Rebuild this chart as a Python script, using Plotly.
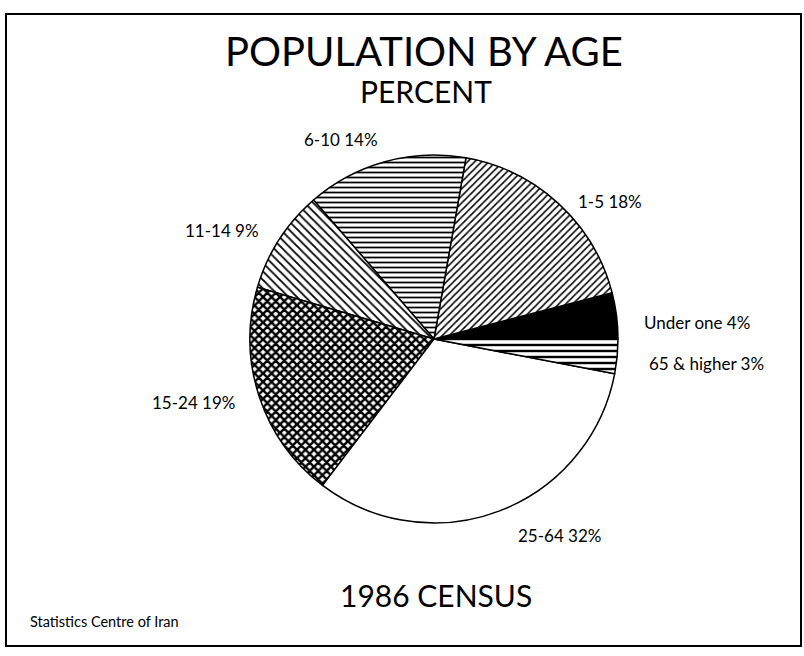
import plotly.graph_objects as go

labels = ["Under one", "1-5", "6-10", "11-14", "15-24", "25-64", "65 & higher"]
values = [4, 18, 14, 9, 19, 32, 3]
label_text = ["Under one 4%", "1-5 18%", "6-10 14%", "11-14 9%", "15-24 19%", "25-64 32%", "65 & higher 3%"]

fill_colors = ["black", "white", "white", "white", "white", "white", "white"]
pattern_shapes = ["", "/", "-", "\\", "x", "", "-"]
pattern_sizes = [6, 5, 5, 6, 6, 6, 6]
pattern_solidity = [0.3, 0.3, 0.35, 0.3, 0.65, 0.3, 0.4]

W, H = 804, 656
FONT = "Lato"

# first slice (Under one) should begin at 3 o'clock, going counter-clockwise
start_rot = 90 - 360 * values[0] / sum(values)

fig = go.Figure()
fig.add_trace(go.Pie(
    labels=labels,
    values=values,
    sort=False,
    direction="counterclockwise",
    rotation=start_rot,
    textinfo="none",
    hoverinfo="label+value",
    showlegend=False,
    marker=dict(
        colors=fill_colors,
        line=dict(color="black", width=1.5),
        pattern=dict(shape=pattern_shapes, fgcolor="black", bgcolor=fill_colors,
                     size=pattern_sizes, solidity=pattern_solidity),
    ),
    domain=dict(x=[(434 - 184) / W, (434 + 184) / W], y=[(317 - 184) / H, (317 + 184) / H]),
))

# label positions in pixels (center x, center y from top)
label_pos = [(697, 322), (610, 202), (341, 139), (222, 230), (193, 402), (559, 535), (706, 363)]
for txt, (px, py) in zip(label_text, label_pos):
    fig.add_annotation(x=px / W, y=1 - py / H, xref="paper", yref="paper", text=txt,
                       xanchor="center", yanchor="middle",
                       showarrow=False, font=dict(family=FONT, size=17, color="black"))

texts = [
    ("POPULATION BY AGE", 424, 51, 40),
    ("PERCENT", 426, 91, 30),
    ("1986 CENSUS", 436, 595, 30),
]
for t, px, py, fs in texts:
    fig.add_annotation(x=px / W, y=1 - py / H, xref="paper", yref="paper", text=t,
                       showarrow=False, xanchor="center", yanchor="middle",
                       font=dict(family=FONT, size=fs, color="black"))
fig.add_annotation(x=28 / W, y=1 - 621 / H, xref="paper", yref="paper", text="Statistics Centre of Iran",
                   showarrow=False, xanchor="left", yanchor="middle",
                   font=dict(family=FONT, size=14.5, color="black"))

fig.add_shape(type="rect", xref="paper", yref="paper", x0=6 / W, x1=801 / W, y0=1 - 646 / H, y1=1 - 14 / H,
              line=dict(color="black", width=2))

fig.update_layout(width=W, height=H, margin=dict(l=0, r=0, t=0, b=0),
                  paper_bgcolor="white", plot_bgcolor="white")
fig.write_html("out.html", config={"displayModeBar": False},
               post_script="document.body.style.margin='0px';")
